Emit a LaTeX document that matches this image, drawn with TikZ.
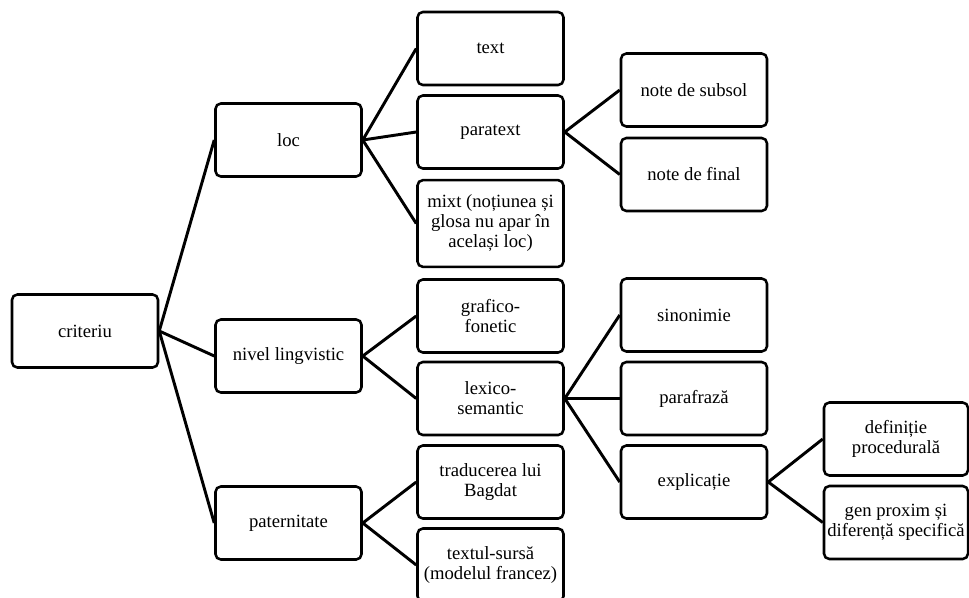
\documentclass[tikz,border=0pt]{standalone}
\usepackage{fontspec}
\setmainfont{Liberation Serif}
\usetikzlibrary{positioning}

\begin{document}
\begin{tikzpicture}[x=0.75pt, y=-0.75pt,
		cbox/.style = {draw, rounded corners=4pt, line width=1.9pt, minimum width=109.5pt, minimum height=54.75pt, align=center, inner sep=1pt, font=\rmfamily\fontsize{14}{15}\selectfont},
		link/.style = {line width=2.2pt}
	]
	\useasboundingbox (0,0) rectangle (969,597);
	% root and first level
	\node[cbox] (crit) at (85,331) {criteriu};
	\node[cbox] (loc) at (288.5,140) {loc};
	\node[cbox] (niv) at (288.5,356) {nivel lingvistic};
	\node[cbox] (pat) at (288.5,523) {paternitate};
	% second level
	\node[cbox] (text) at (490.5,48.5) {text};
	\node[cbox] (paratext) at (490.5,132) {paratext};
	\node[cbox, minimum height=65pt] (mixt) at (490.5,223.5) {mixt (noțiunea și\\glosa nu apar în\\același loc)};
	\node[cbox] (graf) at (490.5,316) {grafico-\\fonetic};
	\node[cbox] (lex) at (490.5,398.5) {lexico-\\semantic};
	\node[cbox] (trad) at (490.5,482) {traducerea lui\\Bagdat};
	\node[cbox] (sursa) at (490.5,565) {textul-sursă\\(modelul francez)};
	% third level
	\node[cbox] (subsol) at (694,90) {note de subsol};
	\node[cbox] (final) at (694,174.5) {note de final};
	\node[cbox] (sinon) at (694,315) {sinonimie};
	\node[cbox] (paraf) at (694,398.5) {parafrază};
	\node[cbox] (expl) at (694,482) {explicație};
	% fourth level
	\node[cbox, minimum width=108pt] (defin) at (896,439) {definiție\\procedurală};
	\node[cbox, minimum width=108pt] (genprox) at (896,522.5) {gen proxim și\\diferență specifică};
	% connectors
	\foreach \p/\c in {crit/loc, crit/niv, crit/pat, loc/text, loc/paratext, loc/mixt, paratext/subsol, paratext/final, niv/graf, niv/lex, lex/sinon, lex/paraf, lex/expl, expl/defin, expl/genprox, pat/trad, pat/sursa}{ \draw[link] (\p.east) -- (\c.west);}
\end{tikzpicture}
\end{document}
